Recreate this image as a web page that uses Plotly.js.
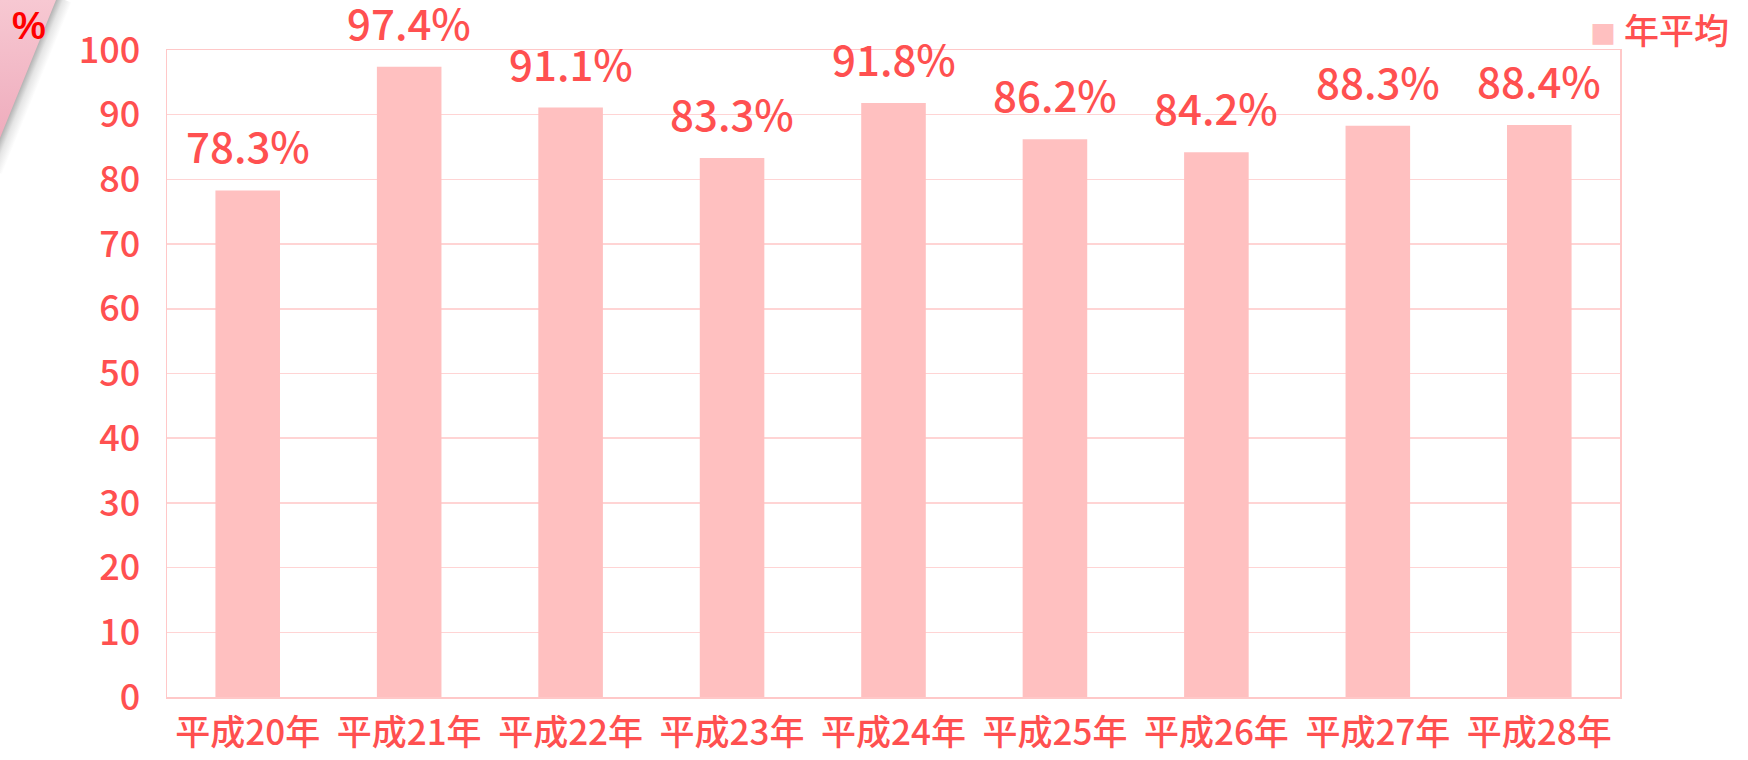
<!DOCTYPE html>
<html>
<head>
<meta charset="utf-8">
<script src="https://cdn.plot.ly/plotly-3.0.1.min.js"></script>
<style>
  html, body { margin: 0; padding: 0; background: #ffffff; }
  #wrap { position: relative; width: 1748px; height: 760px; overflow: hidden; }
  #shadowbox { position: absolute; left: 0; top: 0; width: 120px; height: 200px; overflow: hidden; }
  #shadow { position: absolute; left: 55px; top: -4px; width: 18px; height: 185px;
    transform-origin: 0 0; transform: rotate(22.1deg);
    background: linear-gradient(90deg, rgba(120,120,120,0.7) 0%, rgba(180,180,180,0.35) 50%, rgba(255,255,255,0) 100%); }
  #corner { position: absolute; left: 0; top: 0; width: 70px; height: 150px;
    background: linear-gradient(180deg, #f7c8d2 0%, #eeaabb 100%);
    clip-path: polygon(0 0, 56px 0, 0 138px); }
  #chart { position: absolute; left: 0; top: 0; width: 1748px; height: 760px; }
</style>
</head>
<body>
<div id="wrap">
  <div id="shadowbox"><div id="shadow"></div></div>
  <div id="corner"></div>
  <div id="chart"></div>
</div>
<script>
const categories = ["平成20年", "平成21年", "平成22年", "平成23年", "平成24年", "平成25年", "平成26年", "平成27年", "平成28年"];
const values = [78.3, 97.4, 91.1, 83.3, 91.8, 86.2, 84.2, 88.3, 88.4];
const valueLabels = ["78.3%", "97.4%", "91.1%", "83.3%", "91.8%", "86.2%", "84.2%", "88.3%", "88.4%"];
const seriesName = "年平均";
const yTicks = [0, 10, 20, 30, 40, 50, 60, 70, 80, 90, 100];

const FONT = '"Noto Sans CJK JP", "Noto Sans", sans-serif';
const RED = '#ff5050';
const BAR = '#ffc0c0';

const trace = {
  type: 'bar',
  x: categories,
  y: values,
  name: seriesName,
  marker: { color: BAR },
  showlegend: false,
  hoverinfo: 'x+y'
};

const annotations = categories.map((c, i) => ({
  x: c, y: values[i], xref: 'x', yref: 'y',
  text: valueLabels[i], showarrow: false,
  yanchor: 'bottom', yshift: 13,
  font: { family: FONT, size: 42, color: RED, weight: 500 }
}));
// unit label
annotations.push({
  xref: 'paper', yref: 'paper', x: -0.108, y: 1.072,
  xanchor: 'left', yanchor: 'top',
  text: '<b>%</b>', showarrow: false,
  font: { family: '"Liberation Sans", Arial, sans-serif', size: 38, color: '#ff0000' }
});
// legend
annotations.push({
  xref: 'paper', yref: 'paper', x: 0.978, y: 1.034,
  xanchor: 'left', yanchor: 'middle',
  text: '<span style="color:' + BAR + ';font-size:26px">■</span> ' + seriesName, showarrow: false,
  font: { family: FONT, size: 35, color: RED, weight: 500 }
});

const layout = {
  width: 1748, height: 760,
  margin: { l: 167, r: 128, t: 50, b: 63, autoexpand: false },
  paper_bgcolor: 'rgba(0,0,0,0)',
  plot_bgcolor: 'rgba(0,0,0,0)',
  bargap: 0.6,
  showlegend: false,
  xaxis: {
    type: 'category',
    showline: true, mirror: true, linecolor: '#ffc8c8', linewidth: 1.5,
    showgrid: false, ticks: '',
    ticklabelstandoff: 4,
    tickfont: { family: FONT, size: 35, color: RED, weight: 500 },
    fixedrange: true
  },
  yaxis: {
    range: [0, 100],
    tickvals: yTicks,
    showline: true, mirror: true, linecolor: '#ffc8c8', linewidth: 1.5,
    gridcolor: '#ffd4d4', gridwidth: 1.5,
    zeroline: false, ticks: '',
    ticklabelstandoff: 18,
    tickfont: { family: FONT, size: 36, color: RED, weight: 500 },
    fixedrange: true
  },
  annotations: annotations
};

Plotly.newPlot('chart', [trace], layout, { displayModeBar: false, staticPlot: true });
</script>
</body>
</html>
